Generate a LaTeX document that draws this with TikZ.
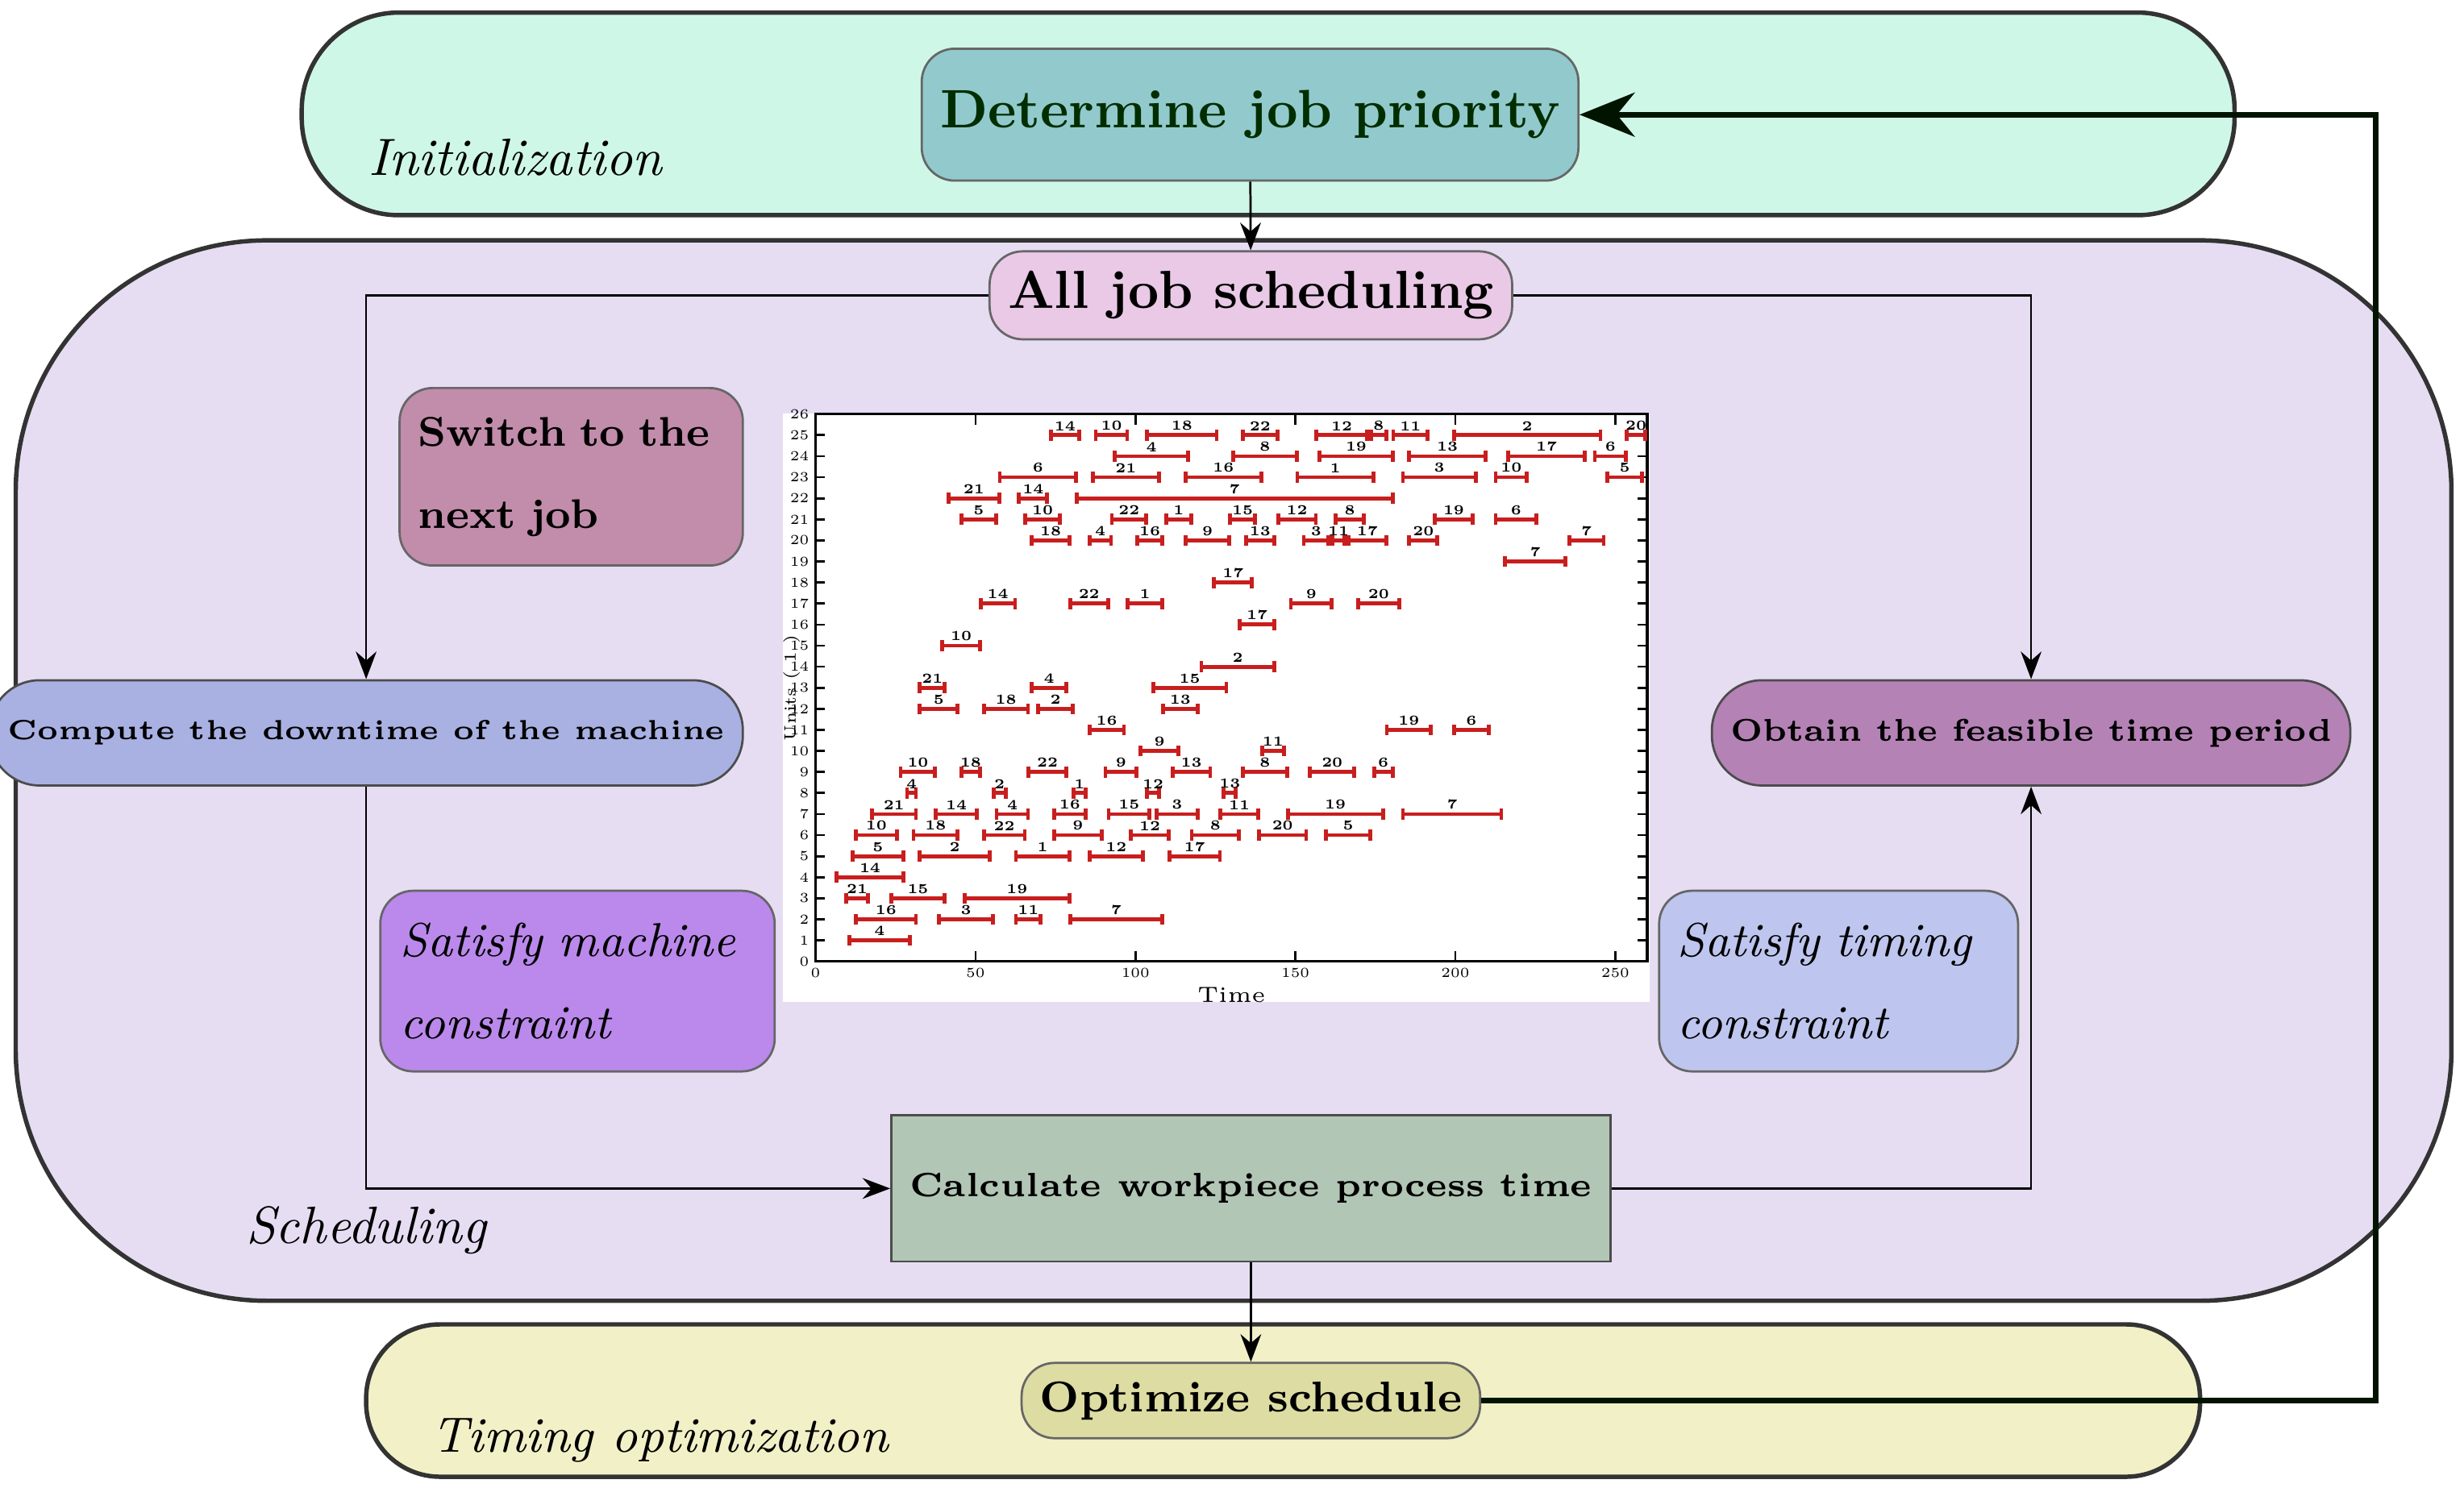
\documentclass[tikz,border=0pt]{standalone}
\usepackage{tikz}
\usetikzlibrary{calc,arrows.meta,positioning}

\definecolor{initcol}{HTML}{CFF7E8}
\definecolor{schedcol}{HTML}{E6DDF3}
\definecolor{optcol}{HTML}{F2F0C6}
\definecolor{prioritycol}{HTML}{92C9CC}
\definecolor{alljobcol}{HTML}{E9C9E5}
\definecolor{switchcol}{HTML}{C28CAB}
\definecolor{downcol}{HTML}{A9B1E2}
\definecolor{feascol}{HTML}{B482B5}
\definecolor{machcol}{HTML}{BA89EB}
\definecolor{timingcol}{HTML}{BEC5EE}
\definecolor{calccol}{HTML}{B2C6B5}
\definecolor{optnodecol}{HTML}{DDDCA2}
\definecolor{bargantt}{HTML}{C81E1E}

\tikzset{
  band/.style={draw=black!80, thick, rounded corners=#1},
  box/.style={draw=black!60, rounded corners=6pt, align=left, font=\bfseries},
  pill/.style={draw=black!70, rounded corners=0.32cm},
  tag/.style={font=\itshape\fontsize{9.5}{11}\selectfont},
  flow/.style={-{Stealth[length=5pt]}, thin},
  bar/.style={draw=bargantt, line width=0.7pt, {Bar[width=2pt]}-{Bar[width=2pt]}},
}

\begin{document}
\begin{tikzpicture}
  \useasboundingbox (0,0) rectangle (15.68,9.47);

  % the three phases
  \draw[band=0.62cm, fill=initcol] (1.92,8.10) rectangle (14.22,9.39);
  \draw[band=1.6cm, fill=schedcol] (0.10,1.19) rectangle (15.60,7.94);
  \draw[band=0.47cm, fill=optcol] (2.33,0.07) rectangle (14.00,1.04);
  \node[tag] at (3.28,8.47) {Initialization};
  \node[tag] at (2.33,1.64) {Scheduling};
  \node[tag, font=\itshape\fontsize{9}{11}\selectfont] at (4.20,0.30) {Timing optimization};

  % nodes
  \node[box, fill=prioritycol, text=black!70!green!60!black, minimum width=4.15cm, minimum height=0.84cm, align=center,
        font=\bfseries\fontsize{9.8}{12}\selectfont] (priority) at (7.955,8.74) {Determine job priority};
  \node[box, fill=alljobcol, minimum width=3.32cm, minimum height=0.56cm, align=center,
        font=\bfseries\fontsize{9.7}{12}\selectfont] (alljob) at (7.96,7.59) {All job scheduling};
  \node[box, fill=switchcol, minimum width=2.17cm, minimum height=1.13cm, text width=1.95cm,
        font=\bfseries\fontsize{7.5}{14.8}\selectfont] (switch) at (3.635,6.435) {Switch to the\\next job};
  \node[pill, fill=downcol, minimum width=4.10cm, minimum height=0.67cm,
        font=\bfseries\fontsize{5}{6}\selectfont] (down) at (2.33,4.805) {Compute the downtime of the machine};
  \node[pill, fill=feascol, minimum width=3.85cm, minimum height=0.67cm,
        font=\bfseries\fontsize{5.7}{7}\selectfont] (feas) at (12.925,4.805) {Obtain the feasible time period};
  \node[box, fill=machcol, minimum width=2.51cm, minimum height=1.15cm, text width=2.25cm,
        font=\itshape\fontsize{8.6}{14.8}\selectfont] (mach) at (3.675,3.225) {Satisfy machine\\constraint};
  \node[box, fill=timingcol, minimum width=2.26cm, minimum height=1.15cm, text width=2.05cm,
        font=\itshape\fontsize{8.6}{14.8}\selectfont] (timing) at (11.70,3.225) {Satisfy timing\\constraint};
  \node[draw=black!70, fill=calccol, minimum width=4.18cm, minimum height=0.93cm,
        font=\bfseries\fontsize{6.1}{7}\selectfont] (calc) at (7.96,1.905) {Calculate workpiece process time};
  \node[box, fill=optnodecol, minimum width=2.82cm, minimum height=0.47cm,
        font=\bfseries\fontsize{7.8}{9}\selectfont] (opt) at (7.96,0.555) {Optimize schedule};

  % gantt chart
  \fill[white] (4.98,3.09) rectangle (10.50,6.84);
  \begin{scope}[shift={(5.19,3.35)}, x=0.02036cm, y=0.134cm]
    \draw[line width=0.5pt] (0,0) rectangle (260,26);
    \foreach \t in {0,50,...,250} {
      \draw (\t,0) -- (\t,0.5) (\t,26) -- (\t,25.5);
      \node[below, font=\fontsize{2.5}{3}\selectfont, inner sep=1pt] at (\t,0) {\t};
    }
    \foreach \u in {0,...,26} {
      \draw (0,\u) -- (3,\u) (260,\u) -- (257,\u);
      \node[left, font=\fontsize{2.5}{3}\selectfont, inner sep=1pt] at (0,\u) {\u};
    }
    \node[font=\fontsize{4}{5}\selectfont] at (130,-1.6) {Time};
    \node[rotate=90, font=\fontsize{3}{4}\selectfont] at (-7.5,13) {Units ( 1 )};
    \foreach \a/\b/\u/\j in {
      73/83/25/14, 87/98/25/10, 103/126/25/18, 133/145/25/22, 156/173/25/12, 173/179/25/8, 180/192/25/11, 199/246/25/2, 253/260/25/20,
      93/117/24/4, 130/151/24/8, 157/181/24/19, 185/210/24/13, 216/241/24/17, 243/254/24/6,
      57/82/23/6, 86/108/23/21, 115/140/23/16, 150/175/23/1, 183/207/23/3, 212/223/23/10, 247/259/23/5,
      41/58/22/21, 63/73/22/14, 81/181/22/7,
      45/57/21/5, 65/77/21/10, 92/104/21/22, 109/118/21/1, 129/138/21/15, 144/157/21/12, 162/172/21/8, 193/206/21/19, 212/226/21/6,
      67/80/20/18, 85/93/20/4, 100/109/20/16, 115/130/20/9, 134/144/20/13, 152/161/20/3, 161/166/20/11, 166/179/20/17, 185/195/20/20, 235/247/20/7,
      215/235/19/7, 124/137/18/17,
      51/63/17/14, 79/92/17/22, 97/109/17/1, 148/162/17/9, 169/183/17/20,
      132/144/16/17, 39/52/15/10, 120/144/14/2,
      32/41/13/21, 67/79/13/4, 105/129/13/15,
      32/45/12/5, 52/67/12/18, 69/81/12/2, 108/120/12/13,
      85/97/11/16, 178/193/11/19, 199/211/11/6,
      101/114/10/9, 139/147/10/11,
      26/38/9/10, 45/52/9/18, 66/79/9/22, 90/101/9/9, 111/124/9/13, 133/148/9/8, 154/169/9/20, 174/181/9/6,
      28/32/8/4, 55/60/8/2, 80/85/8/1, 103/108/8/12, 127/132/8/13,
      17/32/7/21, 37/51/7/14, 56/67/7/4, 74/85/7/16, 91/105/7/15, 106/120/7/3, 126/139/7/11, 147/178/7/19, 183/215/7/7,
      12/26/6/10, 30/45/6/18, 52/66/6/22, 74/90/6/9, 98/111/6/12, 117/133/6/8, 138/154/6/20, 159/174/6/5,
      11/28/5/5, 32/55/5/2, 62/80/5/1, 85/103/5/12, 110/127/5/17,
      6/28/4/14, 9/17/3/21, 23/41/3/15, 46/80/3/19,
      12/32/2/16, 38/56/2/3, 62/71/2/11, 79/109/2/7, 10/30/1/4} {
      \draw[bar] (\a,\u) -- (\b,\u) node[midway, above, inner sep=0.5pt, font=\bfseries\fontsize{2.5}{3}\selectfont] {\j};
    }
  \end{scope}

  % connectors
  \coordinate (backcorner) at (15.12,0.555);
  \draw[flow] (priority) -- (alljob);
  \draw[flow] (alljob.west) -| (down.north);
  \draw[flow] (alljob.east) -| (feas.north);
  \draw[flow] (down.south) |- (calc.west);
  \draw[flow] (calc.east) -| (feas.south);
  \draw[flow] (calc) -- (opt);
  \draw[-{Stealth[length=10pt,width=8pt]}, line width=1pt, draw=black!80!green!40!black]
    (opt.east) -- (backcorner) |- (priority.east);
\end{tikzpicture}
\end{document}
